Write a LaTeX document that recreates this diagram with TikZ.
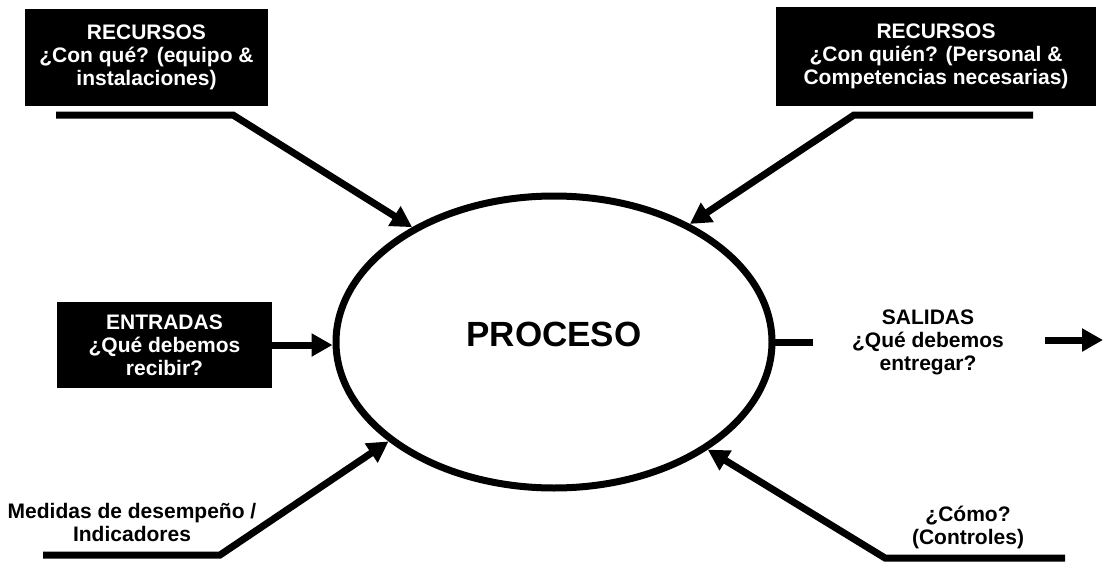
\documentclass[tikz,border=0pt]{standalone}
\usepackage{fontspec}
\setmainfont{Liberation Sans}
\usetikzlibrary{arrows.meta,shapes.geometric}
\tikzset{
  blackbox/.style={fill=black, text=white, align=center, inner sep=0pt,
    font=\bfseries\fontsize{21}{23}\selectfont},
  plain/.style={align=center, inner sep=0pt, font=\bfseries\fontsize{21}{23}\selectfont},
  link/.style={line width=7pt, line join=miter},
  feed/.style={link, -{Triangle[length=21pt,width=22pt]}},
}
\begin{document}
\begin{tikzpicture}[x=1pt,y=-1pt]
\useasboundingbox (0,0) rectangle (1103,562);

% central process
\node[ellipse, draw, line width=7pt, minimum width=436pt, minimum height=292pt, inner sep=0pt]
  (proc) at (554,342) {};
\node[font=\bfseries\fontsize{35}{40}\selectfont, inner sep=0pt] (ptxt) at (554,334) {PROCESO};

% resource boxes
\node[blackbox, minimum width=243pt, minimum height=97pt] (rec1) at (146.5,57.5)
  {RECURSOS\\¿Con qué? (equipo \&\\instalaciones)};
\node[blackbox, minimum width=320pt, minimum height=99pt] (rec2) at (936,56.5)
  {RECURSOS\\¿Con quién? (Personal \&\\Competencias necesarias)};
\node[blackbox, minimum width=215pt, minimum height=86pt] (entr) at (164.5,345)
  {ENTRADAS\\¿Qué debemos\\recibir?};

% free labels
\node[plain] (sal) at (928,342) {SALIDAS\\¿Qué debemos\\entregar?};
\node[plain] (med) at (132,522) {Medidas de desempeño /\\Indicadores};
\node[plain] (ctl) at (968,527) {¿Cómo?\\(Controles)};

% bends and free ends of the connectors
\coordinate (u1a) at (56,115);
\coordinate (u1b) at (233,115);
\coordinate (u2a) at (1033,115);
\coordinate (u2b) at (854,115);
\coordinate (m1) at (43,555);
\coordinate (m2) at (220,555);
\coordinate (c1) at (1065,558);
\coordinate (c2) at (885,558);
\coordinate (s1) at (813,342);
\coordinate (o1) at (1045,340);
\coordinate (o2) at (1103,340);

% connectors
\draw[feed] (u1a) -- (u1b) -- (proc.141);
\draw[feed] (u2a) -- (u2b) -- (proc.41);
\draw[feed] (entr.east) -- (entr.east -| proc.west);
\draw[feed] (m1) -- (m2) -- (proc.211.6);
\draw[feed] (c1) -- (c2) -- (proc.325.8);
\draw[link] ([xshift=-4pt]proc.east) -- (s1);
\draw[feed] (o1) -- (o2);
\end{tikzpicture}
\end{document}
